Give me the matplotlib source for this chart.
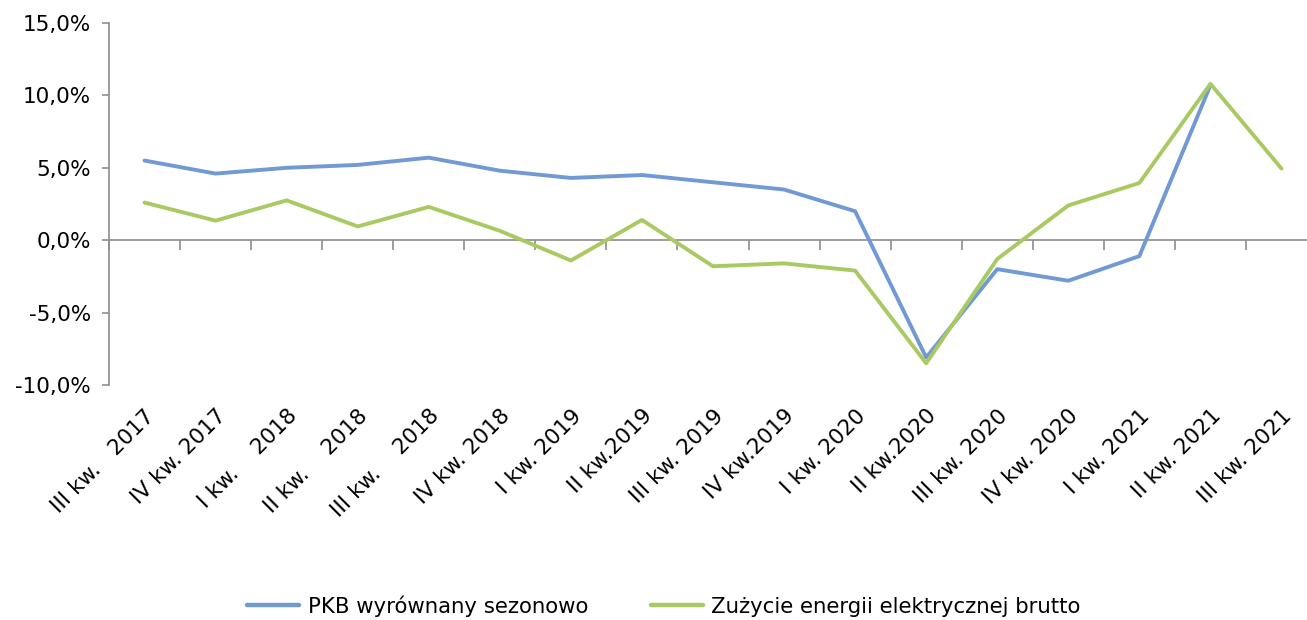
import matplotlib
matplotlib.use("Agg")
import matplotlib.pyplot as plt
import numpy as np
from matplotlib.ticker import FuncFormatter, FixedLocator, NullFormatter

plt.rcParams['font.family'] = ['DejaVu Sans']

categories = ["III kw.   2017", "IV kw. 2017", "I kw.    2018", "II kw.    2018",
              "III kw.    2018", "IV kw. 2018", "I kw. 2019", "II kw.2019",
              "III kw. 2019", "IV kw.2019", "I kw. 2020", "II kw.2020",
              "III kw. 2020", "IV kw. 2020", "I kw. 2021", "II kw. 2021",
              "III kw. 2021"]

pkb = [5.5, 4.6, 5.0, 5.2, 5.7, 4.8, 4.3, 4.5, 4.0, 3.5, 2.0, -8.1,
       -2.0, -2.8, -1.1, 10.7, np.nan]
energia = [2.6, 1.35, 2.75, 0.95, 2.3, 0.65, -1.4, 1.4, -1.8, -1.6, -2.1, -8.5,
           -1.3, 2.4, 3.95, 10.8, 4.95]

series_names = ["PKB wyrównany sezonowo", "Zużycie energii elektrycznej brutto"]
colors = ["#7199D4", "#A9CA62"]
axis_gray = "#8C8C8C"

W, H = 1307, 620
fig = plt.figure(figsize=(W / 100, H / 100), dpi=100)
left_px, right_px, top_px, bottom_px = 109, 1317, 23, 385
ax = fig.add_axes([left_px / W, 1 - bottom_px / H,
                   (right_px - left_px) / W, (bottom_px - top_px) / H])

x = np.arange(len(categories))
ax.plot(x, pkb, color=colors[0], lw=2.8, label=series_names[0], solid_capstyle='round')
ax.plot(x, energia, color=colors[1], lw=2.8, label=series_names[1], solid_capstyle='round')

ax.set_xlim(-0.5, len(categories) - 0.5)
ax.set_ylim(-10, 15)
ax.set_yticks([-10, -5, 0, 5, 10, 15])
ax.yaxis.set_major_formatter(FuncFormatter(lambda v, p: f"{v:.1f}%".replace('.', ',')))

for s in ['top', 'right', 'bottom']:
    ax.spines[s].set_visible(False)
ax.spines['left'].set_color(axis_gray)
ax.spines['left'].set_linewidth(1.2)
ax.tick_params(axis='y', length=5, width=1.2, color=axis_gray, labelsize=15.5, pad=8)

ax.set_xticks(x)
ax.set_xticklabels(categories, rotation=45, ha='right', rotation_mode='anchor', fontsize=15.5)
ax.tick_params(axis='x', length=0, pad=15)

# zero line with category boundary ticks
sec = ax.secondary_xaxis(10 / 25)
sec.spines['bottom'].set_color(axis_gray)
sec.spines['bottom'].set_linewidth(1.2)
sec.xaxis.set_major_locator(FixedLocator(np.arange(len(categories) + 1) - 0.5))
sec.xaxis.set_major_formatter(NullFormatter())
sec.tick_params(axis='x', length=7, width=1.2, color=axis_gray, direction='out')

leg = fig.legend(loc='center', bbox_to_anchor=(664 / W, 1 - 606 / H), ncol=2, frameon=False,
                 fontsize=15.3, handlelength=2.45, handletextpad=0.4, columnspacing=2.95)
for line in leg.get_lines():
    line.set_linewidth(3.2)

fig.savefig("out.png", dpi=100)
